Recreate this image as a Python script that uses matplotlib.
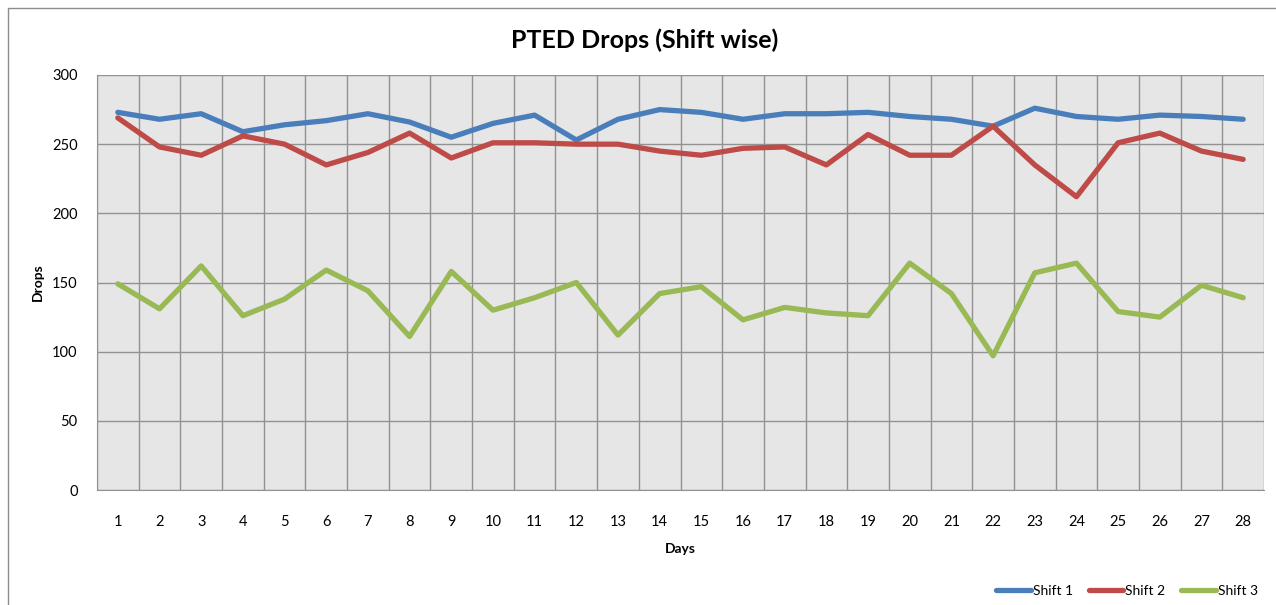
import matplotlib.pyplot as plt
import numpy as np
from matplotlib.patches import Rectangle

# PTED drops per shift
days = list(range(1, 29))
shift1 = [273, 268, 272, 259, 264, 267, 272, 266, 255, 265, 271, 253, 268, 275,
          273, 268, 272, 272, 273, 270, 268, 263, 276, 270, 268, 271, 270, 268]
shift2 = [269, 248, 242, 256, 250, 235, 244, 258, 240, 251, 251, 250, 250, 245,
          242, 247, 248, 235, 257, 242, 242, 263, 235, 212, 251, 258, 245, 239]
shift3 = [149, 131, 162, 126, 138, 159, 144, 111, 158, 130, 139, 150, 112, 142,
          147, 123, 132, 128, 126, 164, 142, 97, 157, 164, 129, 125, 148, 139]
labels = ['Shift 1', 'Shift 2', 'Shift 3']
colors = ['#4a7ebb', '#be4b48', '#98b954']

plt.rcParams['font.family'] = ['Lato', 'DejaVu Sans']

fig = plt.figure(figsize=(12.76, 6.05), dpi=100)
W, H = 1276, 605

# chart frame (only top/left visible in the crop)
fig.patches.append(Rectangle((8 / W, -0.1), 1.2, (605 - 8) / H + 0.1,
                             transform=fig.transFigure, fill=False,
                             edgecolor='#8c8c8c', linewidth=1.0))

ax = fig.add_axes([97 / W, (H - 490) / H, (1264 - 97) / W, (490 - 75) / H])
ax.set_facecolor('#e6e6e6')

for vals, lab, c in zip([shift1, shift2, shift3], labels, colors):
    ax.plot(days, vals, color=c, linewidth=3.8, label=lab, solid_capstyle='round',
            solid_joinstyle='round')

ax.set_xlim(0.5, 28.5)
ax.set_ylim(0, 300)
ax.set_yticks(np.arange(0, 301, 50))
ax.set_xticks(days)
ax.set_xticks(np.arange(0.5, 29, 1), minor=True)
ax.grid(True, which='major', axis='y', color='#929292', linewidth=1.0)
ax.grid(True, which='minor', axis='x', color='#929292', linewidth=1.0)
ax.set_axisbelow(True)
for s in ['top', 'right']:
    ax.spines[s].set_visible(False)
for s in ['left', 'bottom']:
    ax.spines[s].set_color('#929292')
ax.tick_params(which='both', length=0, labelsize=10.5, colors='#000000')
ax.tick_params(axis='x', pad=18)
ax.tick_params(axis='y', pad=14)

ax.set_xlabel('Days', fontsize=10, fontweight='bold', labelpad=10)
ax.set_ylabel('Drops', fontsize=10, fontweight='bold', labelpad=6)
fig.text(645 / W, 1 - 40 / H, 'PTED Drops (Shift wise)', ha='center', va='center',
         fontsize=18, fontweight='bold')

fig.legend(loc='center', bbox_to_anchor=(1127 / W, 1 - 591 / H), ncol=3,
           frameon=False, fontsize=10, handlelength=2.5, handletextpad=0.15,
           columnspacing=1.1)

fig.savefig('out.png', dpi=100)
